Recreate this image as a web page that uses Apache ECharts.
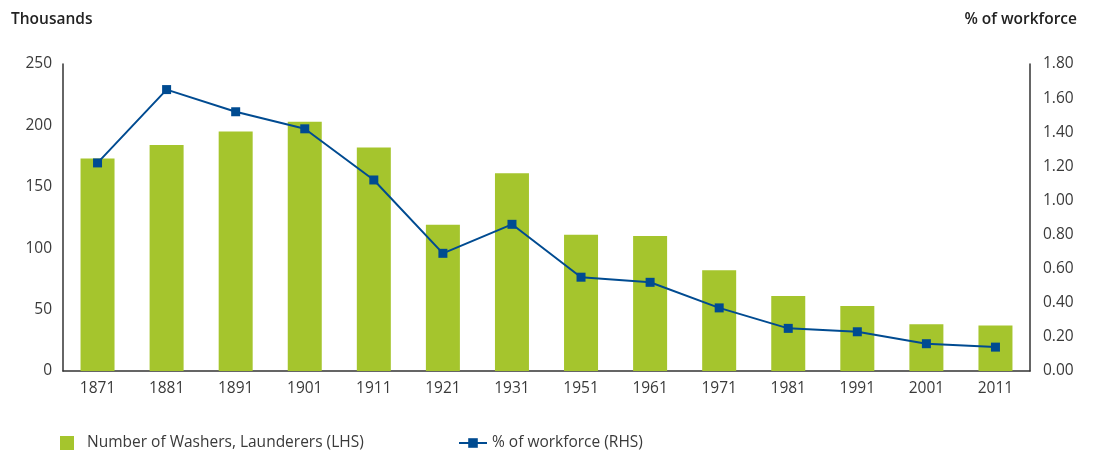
<!DOCTYPE html>
<html>
<head>
<meta charset="utf-8">
<script src="https://cdn.jsdelivr.net/npm/echarts@6/dist/echarts.min.js"></script>
<style>
  html, body { margin: 0; padding: 0; background: #fff; }
  #main { width: 1096px; height: 450px; }
</style>
</head>
<body>
<div id="main"></div>
<script>
// census years
var years = ['1871', '1881', '1891', '1901', '1911', '1921', '1931', '1951', '1961', '1971', '1981', '1991', '2001', '2011'];
// number of washers, launderers (thousands)
var washers = [173, 184, 195, 203, 182, 119, 161, 111, 110, 82, 61, 53, 38, 37];
// share of workforce (%)
var workforce = [1.22, 1.65, 1.52, 1.42, 1.12, 0.69, 0.86, 0.55, 0.52, 0.37, 0.25, 0.23, 0.16, 0.14];

var font = '"Open Sans", "Noto Sans", sans-serif';
var textColor = '#3a3a3a';
var axisColor = '#333';

var chart = echarts.init(document.getElementById('main'));
chart.setOption({
	animation: false,
	textStyle: { fontFamily: font },
	grid: { left: 63, right: 66, top: 64, bottom: 79 },
	title: [
		{ text: 'Thousands', left: 6, top: 7,
		  textStyle: { fontFamily: font, fontSize: 15.5, fontWeight: 600, color: '#222' } },
		{ text: '% of workforce', right: 14, top: 7,
		  textStyle: { fontFamily: font, fontSize: 15.5, fontWeight: 600, color: '#222' } }
	],
	legend: [
		{
			data: [{ name: 'Number of Washers, Launderers (LHS)', icon: 'rect' }],
			left: 55, top: 430, itemWidth: 14, itemHeight: 14, itemGap: 10,
			textStyle: { fontFamily: font, fontSize: 15.5, color: textColor, padding: [0, 0, 0, 8] }
		},
		{
			data: [{ name: '% of workforce (RHS)' }],
			left: 453, top: 430, itemWidth: 28, itemHeight: 12,
			textStyle: { fontFamily: font, fontSize: 15.5, color: textColor }
		}
	],
	xAxis: {
		type: 'category',
		data: years,
		axisLine: { lineStyle: { color: axisColor, width: 1.5 } },
		axisTick: { show: false },
		axisLabel: { color: textColor, fontSize: 15.5, margin: 10 }
	},
	yAxis: [
		{
			type: 'value', min: 0, max: 250, interval: 50,
			axisLine: { show: true, lineStyle: { color: axisColor, width: 1.5 } },
			axisTick: { show: false },
			splitLine: { show: false },
			axisLabel: { color: textColor, fontSize: 15.5, margin: 11 }
		},
		{
			type: 'value', min: 0, max: 1.8, interval: 0.2, position: 'right',
			axisLine: { show: true, lineStyle: { color: axisColor, width: 1.5 } },
			axisTick: { show: false },
			splitLine: { show: false },
			axisLabel: { color: textColor, fontSize: 15.5, margin: 13,
				formatter: function (v) { return v.toFixed(2); } }
		}
	],
	series: [
		{
			name: 'Number of Washers, Launderers (LHS)',
			type: 'bar',
			data: washers,
			barWidth: 34,
			itemStyle: { color: '#a5c52d' }
		},
		{
			name: '% of workforce (RHS)',
			type: 'line',
			yAxisIndex: 1,
			data: workforce,
			symbol: 'rect',
			symbolSize: 9,
			lineStyle: { color: '#004b91', width: 2 },
			itemStyle: { color: '#004b91' }
		}
	]
});
</script>
</body>
</html>
